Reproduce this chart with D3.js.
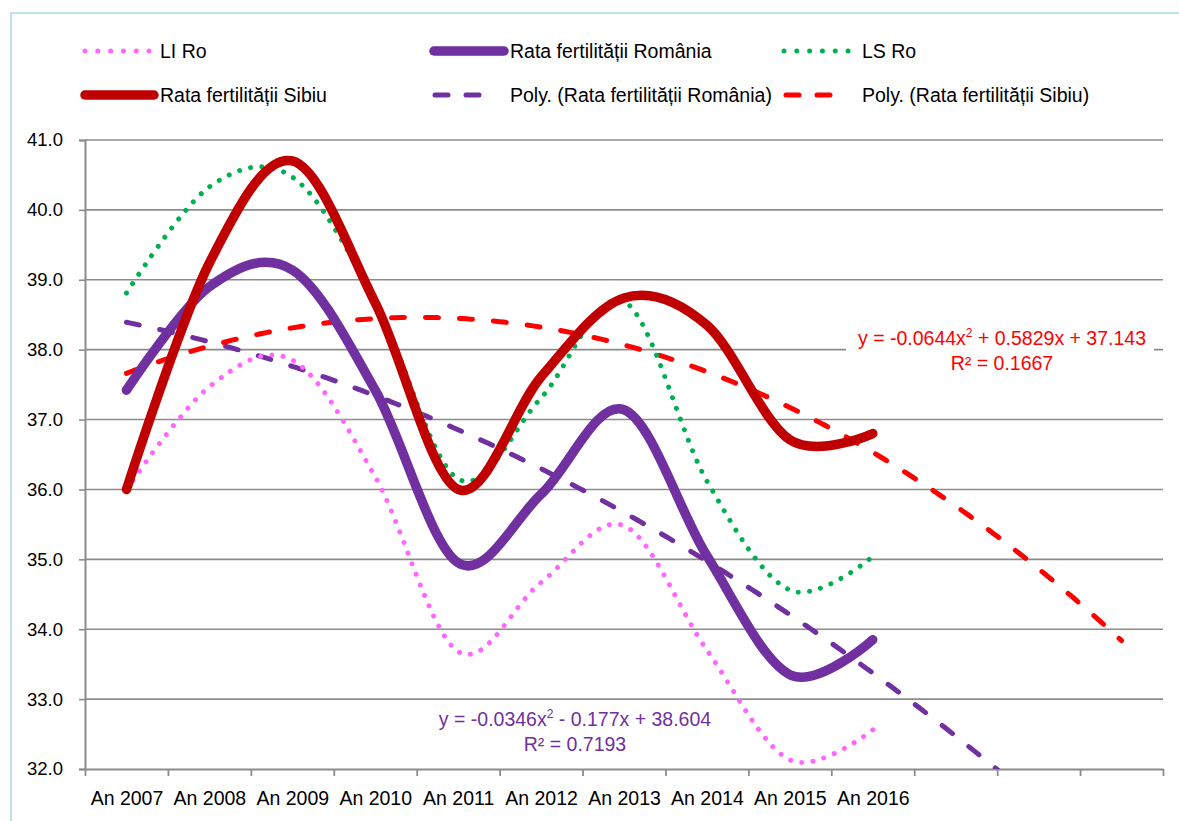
<!DOCTYPE html>
<html>
<head>
<meta charset="utf-8">
<script src="https://cdn.jsdelivr.net/npm/d3@7"></script>
<style>
  html, body { margin: 0; padding: 0; background: #fff; }
  svg text { font-family: "Liberation Sans", Arial, sans-serif; }
</style>
</head>
<body>
<svg id="chart" width="1179" height="821"></svg>
<script>
// ---- data ----
const categories = ["An 2007","An 2008","An 2009","An 2010","An 2011","An 2012","An 2013","An 2014","An 2015","An 2016"];
const extraSlots = 3; // empty forecast categories
const yTicks = [32,33,34,35,36,37,38,39,40,41];
const liRo      = [36.00, 37.47, 37.85, 36.18, 33.68, 34.67, 35.48, 33.70, 32.13, 32.56];
const romania   = [37.42, 38.90, 39.14, 37.42, 34.95, 35.93, 37.14, 35.05, 33.35, 33.85];
const lsRo      = [38.81, 40.33, 40.47, 38.70, 36.15, 37.31, 38.69, 36.12, 34.56, 35.04];
const sibiu     = [36.00, 39.24, 40.70, 38.67, 36.00, 37.61, 38.74, 38.35, 36.71, 36.80];
// polynomial trendline coefficients [a2, a1, a0] as shown on the chart
const polyRomania = [-0.0346, -0.177, 38.604];
const polySibiu   = [-0.0644, 0.5829, 37.143];
const eqRomania = ["y = -0.0346x", "2", " - 0.177x + 38.604", "R² = 0.7193"];
const eqSibiu   = ["y = -0.0644x", "2", " + 0.5829x + 37.143", "R² = 0.1667"];
const legendNames = ["LI Ro","Rata fertilității România","LS Ro","Rata fertilității Sibiu","Poly. (Rata fertilității România)","Poly. (Rata fertilității Sibiu)"];

// ---- layout ----
const svg = d3.select("#chart");
const pL = 85, pR = 1163, pT = 140, pB = 769;
const nSlots = categories.length + extraSlots;
const x = d3.scaleLinear().domain([0.5, nSlots + 0.5]).range([pL, pR]);
const y = d3.scaleLinear().domain([32, 41]).range([pB, pT]);

const C = {
  li: "#FF66FF", ro: "#7030A0", ls: "#00B050", sb: "#C00000", psb: "#FF0000", pro: "#7030A0",
  grid: "#8C8C8C"
};

// outer border
svg.append("rect").attr("x", 11).attr("y", 13).attr("width", 1200).attr("height", 900)
  .attr("fill", "#fff").attr("stroke", "#BFE2EE").attr("stroke-width", 2);

// clip
svg.append("defs").append("clipPath").attr("id", "plot")
  .append("rect").attr("x", pL).attr("y", pT - 20).attr("width", pR - pL + 20).attr("height", pB - pT + 20);

// gridlines
svg.append("g").selectAll("line").data(yTicks.filter(d => d > 32)).join("line")
  .attr("x1", pL).attr("x2", pR).attr("y1", d => y(d)).attr("y2", d => y(d))
  .attr("stroke", C.grid).attr("stroke-width", 1.6);

// y axis
const yAxis = svg.append("g").attr("transform", `translate(${pL},0)`)
  .call(d3.axisLeft(y).tickValues(yTicks).tickFormat(d3.format(".1f")).tickSize(6).tickPadding(16));
yAxis.select(".domain").attr("stroke", C.grid).attr("stroke-width", 2);
yAxis.selectAll(".tick line").attr("stroke", C.grid).attr("stroke-width", 1.6);
yAxis.selectAll("text").attr("font-size", 18.5).attr("fill", "#000")
  .attr("font-family", "Liberation Sans, Arial, sans-serif");

// x axis (tick marks at category boundaries)
const bounds = d3.range(nSlots + 1).map(i => i + 0.5);
const xAxis = svg.append("g").attr("transform", `translate(0,${pB})`)
  .call(d3.axisBottom(x).tickValues(bounds).tickFormat("").tickSize(7).tickSizeOuter(0));
xAxis.select(".domain").attr("stroke", C.grid).attr("stroke-width", 2.2);
xAxis.selectAll(".tick line").attr("stroke", C.grid).attr("stroke-width", 1.8);
// category labels
const xLab = svg.append("g").attr("transform", `translate(0,${pB})`)
  .call(d3.axisBottom(x).tickValues(categories.map((c, i) => i + 1))
    .tickFormat((d) => categories[d - 1]).tickSize(0).tickPadding(22));
xLab.select(".domain").remove();
xLab.selectAll("text").attr("font-size", 19.5).attr("fill", "#000")
  .attr("font-family", "Liberation Sans, Arial, sans-serif");

// ---- series ----
const line = d3.line().x((d, i) => x(i + 1)).y(d => y(d)).curve(d3.curveCardinal.tension(0));
const plot = svg.append("g").attr("clip-path", "url(#plot)");

function polyPoints(c) {
  const pts = [];
  for (let t = 1; t <= nSlots + 1e-9; t += 0.05) pts.push([t, c[0] * t * t + c[1] * t + c[2]]);
  return pts;
}
const trendLine = d3.line().x(d => x(d[0])).y(d => y(d[1]));

// Trendlines (behind)
plot.append("path").attr("d", trendLine(polyPoints(polyRomania)))
  .attr("fill", "none").attr("stroke", C.pro).attr("stroke-width", 5)
  .attr("stroke-linecap", "round").attr("stroke-dasharray", "13 21");
plot.append("path").attr("d", trendLine(polyPoints(polySibiu)))
  .attr("fill", "none").attr("stroke", C.psb).attr("stroke-width", 5)
  .attr("stroke-linecap", "round").attr("stroke-dasharray", "13 21");

// dotted bands
plot.append("path").attr("d", line(liRo)).attr("fill", "none").attr("stroke", C.li)
  .attr("stroke-width", 5).attr("stroke-linecap", "round").attr("stroke-dasharray", "0.01 11.3");
plot.append("path").attr("d", line(lsRo)).attr("fill", "none").attr("stroke", C.ls)
  .attr("stroke-width", 5).attr("stroke-linecap", "round").attr("stroke-dasharray", "0.01 11.3");

// Romania then Sibiu
plot.append("path").attr("d", line(romania)).attr("fill", "none").attr("stroke", C.ro)
  .attr("stroke-width", 9.5).attr("stroke-linecap", "round").attr("stroke-linejoin", "round");
plot.append("path").attr("d", line(sibiu)).attr("fill", "none").attr("stroke", C.sb)
  .attr("stroke-width", 9.5).attr("stroke-linecap", "round").attr("stroke-linejoin", "round");

// ---- trendline equation labels ----
function eqLabel(eq, cx, y1, color, bx, by, bw, bh) {
  svg.append("rect").attr("x", bx).attr("y", by).attr("width", bw).attr("height", bh).attr("fill", "#fff");
  const t = svg.append("text").attr("x", cx).attr("y", y1).attr("text-anchor", "middle")
    .attr("font-size", 19.5).attr("fill", color);
  t.append("tspan").text(eq[0]);
  t.append("tspan").text(eq[1]).attr("font-size", 12).attr("dy", -8);
  t.append("tspan").text(eq[2]).attr("dy", 8);
  svg.append("text").attr("x", cx).attr("y", y1 + 25).attr("text-anchor", "middle")
    .attr("font-size", 19.5).attr("fill", color).text(eq[3]);
}
eqLabel(eqSibiu, 1002, 345, C.psb, 846, 322, 308, 56);
eqLabel(eqRomania, 575, 726, C.pro, 430, 702, 290, 60);

// ---- legend ----
const leg = svg.append("g");
const legItems = [
  {name: legendNames[0], x1: 85,  x2: 150, tx: 160, y: 51, stroke: C.li, w: 5, dash: "0.01 12.8"},
  {name: legendNames[1], x1: 434, x2: 504, tx: 510, y: 51, stroke: C.ro, w: 9.5, dash: null},
  {name: legendNames[2], x1: 784, x2: 849, tx: 862, y: 51, stroke: C.ls, w: 5, dash: "0.01 12.8"},
  {name: legendNames[3], x1: 85,  x2: 154, tx: 160, y: 95, stroke: C.sb, w: 9.5, dash: null},
  {name: legendNames[4], x1: 435, x2: 490, tx: 510, y: 95, stroke: C.pro, w: 5, dash: "13 18"},
  {name: legendNames[5], x1: 786, x2: 841, tx: 862, y: 95, stroke: C.psb, w: 5, dash: "13 18"}
];
legItems.forEach(d => {
  const l = leg.append("line").attr("x1", d.x1).attr("x2", d.x2).attr("y1", d.y).attr("y2", d.y)
    .attr("stroke", d.stroke).attr("stroke-width", d.w).attr("stroke-linecap", "round");
  if (d.dash) l.attr("stroke-dasharray", d.dash);
  leg.append("text").attr("x", d.tx).attr("y", d.y).attr("dy", "0.35em")
    .attr("font-size", 19.5).attr("fill", "#000").text(d.name);
});
</script>
</body>
</html>
